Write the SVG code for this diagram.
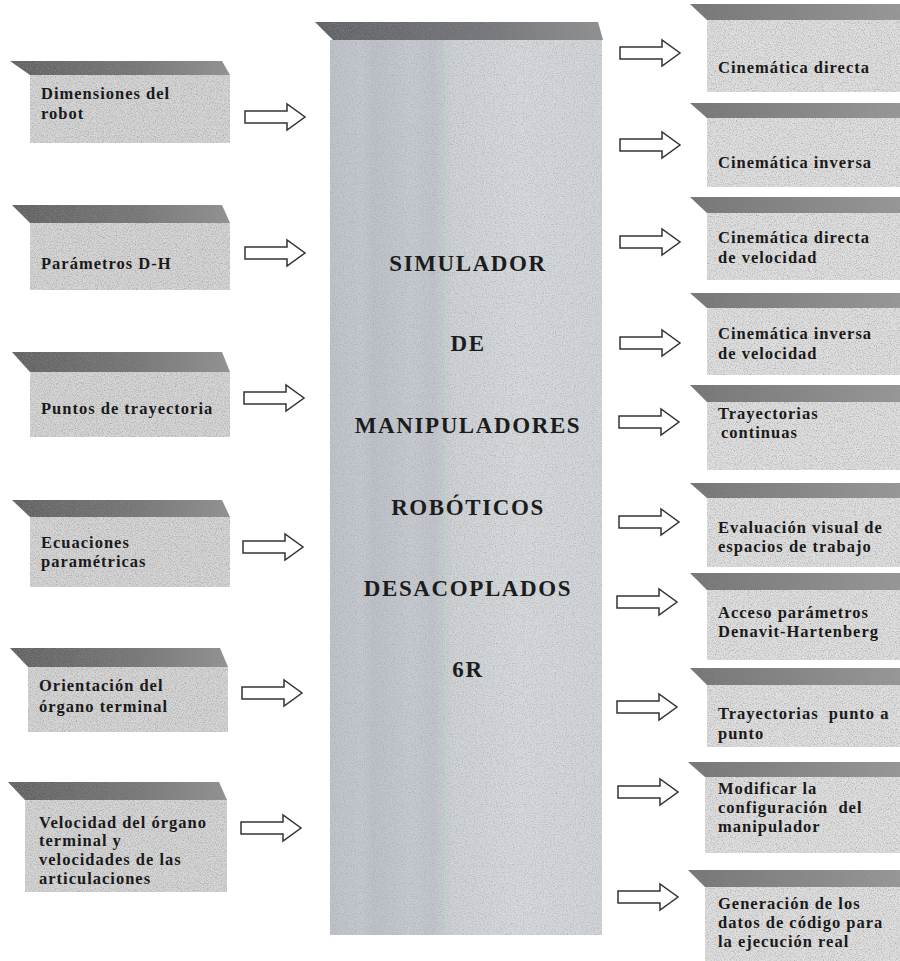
<svg xmlns="http://www.w3.org/2000/svg" xmlns:xlink="http://www.w3.org/1999/xlink" width="900" height="961" viewBox="0 0 900 961">
  <defs>
    <style>
      .lbl { font-family: "Liberation Serif", "Times New Roman", serif; font-weight: bold; font-size: 16.5px; letter-spacing: 1px; fill: #1a1a1a; white-space: pre; }
      .title { font-family: "Liberation Serif", "Times New Roman", serif; font-weight: bold; font-size: 23px; letter-spacing: 1.6px; fill: #1c1c1c; text-anchor: middle; }
      .bevel { fill: url(#bevelGrad); filter: url(#grain); }
      .rbevel { fill: url(#rbevelGrad); filter: url(#grain); }
      .body { fill: #d6d6d6; filter: url(#grain); }
      .rbody { fill: #e0e0e0; filter: url(#grain); }
      .arrow { fill: #ffffff; stroke: #333333; stroke-width: 1.5; stroke-linejoin: miter; }
    </style>
    <!-- speckled print texture -->
    <filter id="grain" x="0" y="0" width="100%" height="100%">
      <feTurbulence type="fractalNoise" baseFrequency="0.85" numOctaves="2" seed="7" result="noise"/>
      <feColorMatrix in="noise" type="matrix" values="0 0 0 0 0.25  0 0 0 0 0.25  0 0 0 0 0.25  1.5 0 0 0 -0.62" result="specks"/>
      <feComposite in="specks" in2="SourceGraphic" operator="in" result="clipped"/>
      <feMerge><feMergeNode in="SourceGraphic"/><feMergeNode in="clipped"/></feMerge>
    </filter>
    <filter id="grainCore" x="0" y="0" width="100%" height="100%">
      <feTurbulence type="fractalNoise" baseFrequency="0.9" numOctaves="2" seed="11" result="noise"/>
      <feColorMatrix in="noise" type="matrix" values="0 0 0 0 0.35  0 0 0 0 0.37  0 0 0 0 0.42  1.5 0 0 0 -0.6" result="specks"/>
      <feComposite in="specks" in2="SourceGraphic" operator="in" result="clipped"/>
      <feMerge><feMergeNode in="SourceGraphic"/><feMergeNode in="clipped"/></feMerge>
    </filter>
    <linearGradient id="bevelGrad" x1="0" y1="0" x2="1" y2="0">
      <stop offset="0" stop-color="#606060"/>
      <stop offset="0.6" stop-color="#787878"/>
      <stop offset="1" stop-color="#949494"/>
    </linearGradient>
    <linearGradient id="rbevelGrad" x1="0" y1="0" x2="1" y2="0">
      <stop offset="0" stop-color="#747474"/>
      <stop offset="1" stop-color="#9a9a9a"/>
    </linearGradient>
    <!-- vertical banding of the central block -->
    <linearGradient id="coreGrad" x1="0" y1="0" x2="1" y2="0">
      <stop offset="0" stop-color="#c0c4cb"/>
      <stop offset="0.12" stop-color="#c6cacf"/>
      <stop offset="0.16" stop-color="#bec2c9"/>
      <stop offset="0.3" stop-color="#c8ccd1"/>
      <stop offset="0.38" stop-color="#c2c6cc"/>
      <stop offset="0.45" stop-color="#d0d4d6"/>
      <stop offset="0.7" stop-color="#d8dbdd"/>
      <stop offset="1" stop-color="#d3d6d9"/>
    </linearGradient>
    <linearGradient id="coreTop" x1="0" y1="0" x2="1" y2="0">
      <stop offset="0" stop-color="#5e6064"/>
      <stop offset="0.6" stop-color="#74767a"/>
      <stop offset="1" stop-color="#909294"/>
    </linearGradient>
    <!-- hollow block arrow, 60 wide, centred on y=0 -->
    <path id="arr" d="M0,-6 H42 V-13 L60,0 L42,13 V6 H0 Z"/>
  </defs>

  <rect width="900" height="961" fill="#ffffff"/>

  <!-- central block -->
  <g id="core">
    <rect x="330" y="40" width="272" height="895" fill="url(#coreGrad)" filter="url(#grainCore)"/>
    <polygon points="315,22 598,22 603,40 333,40" fill="url(#coreTop)" filter="url(#grain)"/>
    <line x1="446" y1="42" x2="446" y2="933" stroke="#b8dcb8" stroke-width="2" opacity="0.5"/>
    <text class="title" x="468" y="271">SIMULADOR</text>
    <text class="title" x="468" y="351">DE</text>
    <text class="title" x="468" y="433">MANIPULADORES</text>
    <text class="title" x="468" y="515">ROBÓTICOS</text>
    <text class="title" x="468" y="596">DESACOPLADOS</text>
    <text class="title" x="468" y="677">6R</text>
  </g>

  <!-- input blocks -->
  <g id="in-dimensiones">
    <rect class="body" x="30" y="75" width="200" height="68"/>
    <polygon class="bevel" points="10,61 222,61 230,75 30,75"/>
    <text class="lbl" x="41" y="99">Dimensiones del</text>
    <text class="lbl" x="41" y="119">robot</text>
  </g>
  <g id="in-dh">
    <rect class="body" x="30" y="223" width="200" height="67"/>
    <polygon class="bevel" points="12,205 222,205 230,223 30,223"/>
    <text class="lbl" x="41" y="269">Parámetros D-H</text>
  </g>
  <g id="in-puntos">
    <rect class="body" x="30" y="372" width="200" height="65"/>
    <polygon class="bevel" points="12,352 222,352 230,372 30,372"/>
    <text class="lbl" x="41" y="414">Puntos de trayectoria</text>
  </g>
  <g id="in-ecuaciones">
    <rect class="body" x="30" y="517" width="200" height="70"/>
    <polygon class="bevel" points="12,500 222,500 230,517 30,517"/>
    <text class="lbl" x="41" y="548">Ecuaciones</text>
    <text class="lbl" x="41" y="567">paramétricas</text>
  </g>
  <g id="in-orientacion">
    <rect class="body" x="28" y="667" width="200" height="65"/>
    <polygon class="bevel" points="10,648 220,648 228,667 28,667"/>
    <text class="lbl" x="39" y="691">Orientación del</text>
    <text class="lbl" x="39" y="712">órgano terminal</text>
  </g>
  <g id="in-velocidad">
    <rect class="body" x="25" y="800" width="202" height="92"/>
    <polygon class="bevel" points="8,782 219,782 227,800 25,800"/>
    <text class="lbl" x="39" y="828">Velocidad del órgano</text>
    <text class="lbl" x="39" y="846">terminal y</text>
    <text class="lbl" x="39" y="865">velocidades de las</text>
    <text class="lbl" x="39" y="884">articulaciones</text>
  </g>

  <!-- output blocks -->
  <g id="out-cd">
    <rect class="rbody" x="707" y="20" width="193" height="72"/>
    <polygon class="rbevel" points="690,4 905,4 905,20 707,20"/>
    <text class="lbl" x="718" y="73">Cinemática directa</text>
  </g>
  <g id="out-ci">
    <rect class="rbody" x="707" y="118" width="193" height="69"/>
    <polygon class="rbevel" points="690,103 905,103 905,118 707,118"/>
    <text class="lbl" x="718" y="168">Cinemática inversa</text>
  </g>
  <g id="out-cdv">
    <rect class="rbody" x="707" y="213" width="193" height="67"/>
    <polygon class="rbevel" points="690,197 905,197 905,213 707,213"/>
    <text class="lbl" x="718" y="243">Cinemática directa</text>
    <text class="lbl" x="718" y="263">de velocidad</text>
  </g>
  <g id="out-civ">
    <rect class="rbody" x="707" y="308" width="193" height="67"/>
    <polygon class="rbevel" points="690,293 905,293 905,308 707,308"/>
    <text class="lbl" x="718" y="339">Cinemática inversa</text>
    <text class="lbl" x="718" y="359">de velocidad</text>
  </g>
  <g id="out-tc">
    <rect class="rbody" x="707" y="402" width="193" height="68"/>
    <polygon class="rbevel" points="690,385 905,385 905,402 707,402"/>
    <text class="lbl" x="718" y="419">Trayectorias</text>
    <text class="lbl" x="721" y="438">continuas</text>
  </g>
  <g id="out-ev">
    <rect class="rbody" x="707" y="498" width="193" height="69"/>
    <polygon class="rbevel" points="690,483 905,483 905,498 707,498"/>
    <text class="lbl" x="718" y="533">Evaluación visual de</text>
    <text class="lbl" x="718" y="552">espacios de trabajo</text>
  </g>
  <g id="out-dh">
    <rect class="rbody" x="707" y="590" width="193" height="70"/>
    <polygon class="rbevel" points="690,573 905,573 905,590 707,590"/>
    <text class="lbl" x="718" y="618">Acceso parámetros</text>
    <text class="lbl" x="718" y="637">Denavit-Hartenberg</text>
  </g>
  <g id="out-tp">
    <rect class="rbody" x="707" y="685" width="193" height="62"/>
    <polygon class="rbevel" points="690,668 905,668 905,685 707,685"/>
    <text class="lbl" x="718" y="719" xml:space="preserve">Trayectorias  punto a</text>
    <text class="lbl" x="718" y="739">punto</text>
  </g>
  <g id="out-mod">
    <rect class="rbody" x="705" y="777" width="195" height="76"/>
    <polygon class="rbevel" points="688,762 905,762 905,777 705,777"/>
    <text class="lbl" x="718" y="794">Modificar la</text>
    <text class="lbl" x="718" y="813" xml:space="preserve">configuración  del</text>
    <text class="lbl" x="718" y="832">manipulador</text>
  </g>
  <g id="out-gen">
    <rect class="rbody" x="705" y="887" width="195" height="74"/>
    <polygon class="rbevel" points="688,870 905,870 905,887 705,887"/>
    <text class="lbl" x="718" y="909">Generación de los</text>
    <text class="lbl" x="718" y="928">datos de código para</text>
    <text class="lbl" x="718" y="947">la ejecución real</text>
  </g>

  <!-- connectors -->
  <g id="connectors" class="arrow">
    <use xlink:href="#arr" x="245" y="117"/>
    <use xlink:href="#arr" x="245" y="253"/>
    <use xlink:href="#arr" x="244" y="398"/>
    <use xlink:href="#arr" x="243" y="547"/>
    <use xlink:href="#arr" x="242" y="693"/>
    <use xlink:href="#arr" x="241" y="828"/>
    <use xlink:href="#arr" x="620" y="53"/>
    <use xlink:href="#arr" x="620" y="145"/>
    <use xlink:href="#arr" x="620" y="242"/>
    <use xlink:href="#arr" x="620" y="343"/>
    <use xlink:href="#arr" x="619" y="422"/>
    <use xlink:href="#arr" x="619" y="522"/>
    <use xlink:href="#arr" x="617" y="602"/>
    <use xlink:href="#arr" x="617" y="707"/>
    <use xlink:href="#arr" x="618" y="792"/>
    <use xlink:href="#arr" x="618" y="897"/>
  </g>
</svg>
